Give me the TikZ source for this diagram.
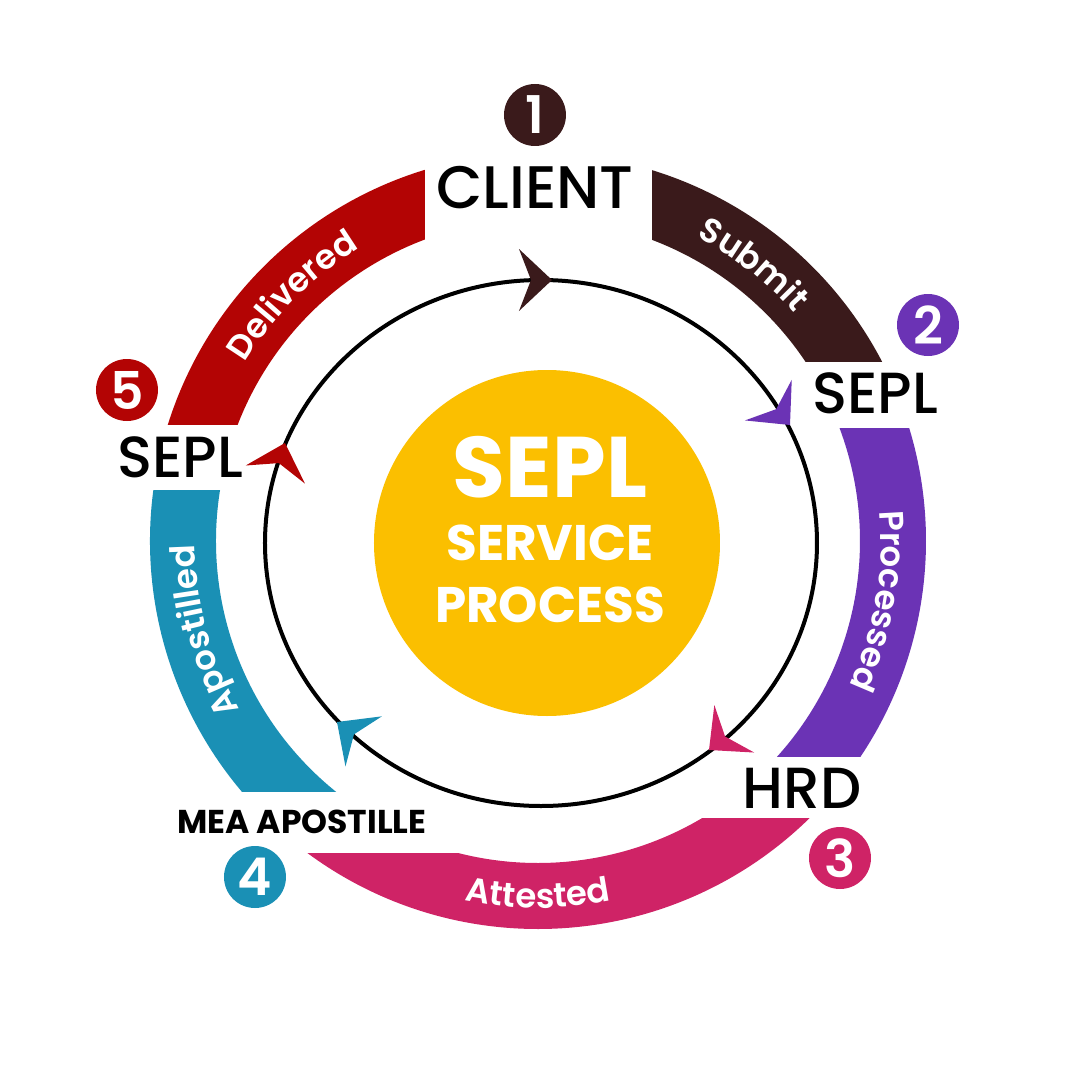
\documentclass[tikz,border=0pt]{standalone}
\usepackage{fontspec}
\setmainfont{Poppins}
\newfontfamily\poppinsmed{Poppins Medium}
\newfontfamily\poppinssemi{Poppins SemiBold}
\usetikzlibrary{positioning, decorations.text}

\definecolor{clientbrown}{HTML}{3A1A1B}
\definecolor{sepred}{HTML}{B30404}
\definecolor{seppurple}{HTML}{6B33B5}
\definecolor{hrdpink}{HTML}{CF2366}
\definecolor{meateal}{HTML}{1A90B5}
\definecolor{hubyellow}{HTML}{FBBF00}

\newcommand\ringfont{\fontsize{34}{34}\selectfont\poppinssemi}

\begin{document}
\begin{tikzpicture}[x=1pt, y=1pt,
  stepnum/.style={circle, fill=#1, minimum size=62pt, inner sep=0pt, text=white,
    font=\fontsize{52}{52}\selectfont\poppinssemi},
  stagelabel/.style={inner sep=0pt, font=\fontsize{58}{58}\selectfont\poppinsmed},
  hubtext/.style={inner sep=0pt, text=white, font=\fontsize{#1}{#1}\selectfont\bfseries},
  gapbox/.style={fill=white},
  ringlabel/.style={decorate, decoration={text along path, text align=center,
    text color=white, text={|\ringfont|#1}}},
  flowhead/.pic={\fill (0,0) -- (-33,31) -- (-21,0) -- (-33,-31) -- cycle;}]

\useasboundingbox (-540,-540) rectangle (540,540);

% Ring
\begin{scope}[shift={(-2,-1)}]
\fill[clientbrown] (24:322) arc[start angle=24, end angle=90, radius=322]
  -- (90:388) arc[start angle=90, end angle=24, radius=388] -- cycle;
\fill[seppurple] (-44:322) arc[start angle=-44, end angle=24, radius=322]
  -- (24:388) arc[start angle=24, end angle=-44, radius=388] -- cycle;
\fill[hrdpink] (-127:322) arc[start angle=-127, end angle=-44, radius=322]
  -- (-44:388) arc[start angle=-44, end angle=-127, radius=388] -- cycle;
\fill[meateal] (166:322) arc[start angle=166, end angle=233, radius=322]
  -- (233:388) arc[start angle=233, end angle=166, radius=388] -- cycle;
\fill[sepred] (90:322) arc[start angle=90, end angle=166, radius=322]
  -- (166:388) arc[start angle=166, end angle=90, radius=388] -- cycle;
\end{scope}

% Gaps
\fill[gapbox] (-115,280) rectangle (112,420);
\fill[gapbox] (160,112) rectangle (460,178);
\fill[gapbox] (110,-278) rectangle (460,-217);
\fill[gapbox] (-460,-313) rectangle (-40,-252);
\fill[gapbox] (-460,50) rectangle (-210,115);

% Ring labels
\begin{scope}[shift={(-2,-1)}]
\path[ringlabel=Submit] (82:343) arc[start angle=82, end angle=22, radius=343];
\path[ringlabel=Processed] (22:343) arc[start angle=22, end angle=-42, radius=343];
\path[ringlabel=Attested] (-125:367) arc[start angle=-125, end angle=-55, radius=367];
\path[ringlabel=Apostilled] (228:343) arc[start angle=228, end angle=162, radius=343];
\path[ringlabel=Delivered] (168:343) arc[start angle=168, end angle=102, radius=343];
\end{scope}

% Inner cycle
\draw[line width=4pt] (1,-3) ellipse[x radius=276, y radius=263];
\pic[clientbrown] at (12,260) {flowhead};
\pic[seppurple, rotate=-49] at (250,115) {flowhead};
\pic[hrdpink, rotate=220] at (169,-210) {flowhead};
\pic[meateal, rotate=144] at (-203,-182) {flowhead};
\pic[sepred, rotate=73] at (-255,97) {flowhead};

% Hub
\node[circle, fill=hubyellow, minimum size=346pt, inner sep=0pt] (hub) at (7,-3) {};
\node[hubtext=86] (hubsepl) at (10,73) {SEPL};
\node[hubtext=50] (hubservice) at (10,-3) {SERVICE};
\node[hubtext=50] (hubprocess) at (10,-65) {PROCESS};

% Stages
\node[stepnum=clientbrown] (n1) at (-5,425) {1};
\node[stagelabel, font=\fontsize{60}{60}\selectfont\poppinsmed] (client) at (-5,352) {CLIENT};
\node[stepnum=seppurple] (n2) at (388,215) {2};
\node[stagelabel] (sepl2) at (335,147) {SEPL};
\node[stepnum=hrdpink] (n3) at (300,-318) {3};
\node[stagelabel] (hrd) at (262,-248) {HRD};
\node[stepnum=meateal] (n4) at (-285,-337) {4};
\node[stagelabel, font=\fontsize{33}{33}\selectfont\bfseries] (mea) at (-238,-282) {MEA APOSTILLE};
\node[stepnum=sepred] (n5) at (-413,150) {5};
\node[stagelabel] (sepl5) at (-360,83) {SEPL};

\end{tikzpicture}
\end{document}
